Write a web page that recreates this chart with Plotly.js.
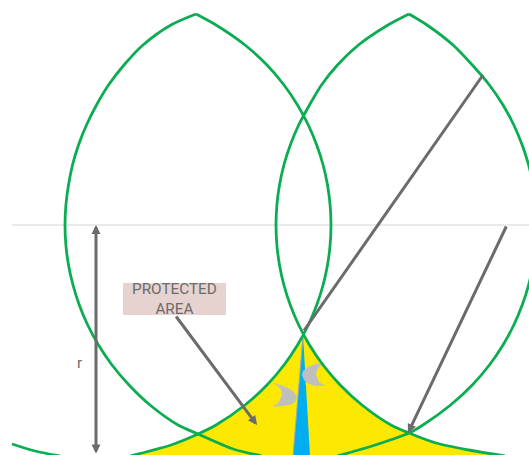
<!DOCTYPE html>
<html><head><meta charset="utf-8">
<script src="https://cdn.plot.ly/plotly-3.0.1.min.js"></script>
<style>html,body{margin:0;padding:0;background:#fff}</style></head>
<body><div id="c" style="width:529px;height:455px"></div>
<script>
// values, in picture units
const leftOuterX=[196,171,143,124,108.5,96.5,86.5,78.5,72.5,68.5,65.9,65,65.9,68.5,73,79.3,87.7,98.5,112,129,150,178,198,233,262];
const leftOuterY=[14,25,45,65,85,105,125,145,165,185,205,225,245,265,285,305,325,345,365,385,405,425,434,449,456];
const leftInnerX=[196,216,245,267,284,297.5,308.3,316.7,323.1,327.5,330.1,331,330.1,327.5,323.1,316.7,308.3,297.5,284,267,245,216,198,171,130];
const leftInnerY=[14,25,45,65,85,105,125,145,165,185,205,225,245,265,285,305,325,345,365,385,405,425,434,445,456];
const rightInnerX=[409,388,358.5,337.5,321.5,309.5,298.7,290.3,283.9,279.5,276.9,276,276.9,279.5,283.9,290.3,298.7,309.5,323.1,340.2,362,391,409,436,469,505];
const rightInnerY=[14,25,45,65,85,105,125,145,165,185,205,225,245,265,285,305,325,345,365,385,405,425,433,443,450,456];
const rightOuterX=[409,427,453,472.3,489.4,503,513.8,522.2,528.6,533,535.6,536.5,535.6,533,528.6,522.2,513.8,503,489.4,472.3,450.6,423,409,369,337];
const rightOuterY=[14,25,45,65,85,105,125,145,165,185,205,225,245,265,285,305,325,345,365,385,405,425,433,447,456];
const farLeftX=[12,35,60];
const farLeftY=[444,451,456];
const yellowX=[303,297.5,284,267,245,216,198,171,130,505,469,436,409,391,362,340.2,323.1,309.5];
const yellowY=[335,345,365,385,405,425,434,445,456,456,450,443,433,425,405,385,365,345];
const blueX=[303,293,310];
const blueY=[335,456,456];
const cres1X=[273,281,288,293,297,295,290,283,273,279,282,281,278];
const cres1Y=[383,385,388,391,397,402,405,406,407,402,395,390,386];
const cres2X=[325,315,308,303,302,304,309,316,325,319,316,317,320];
const cres2Y=[363,364,367,371,375,380,384,386,386,382,375,370,366];
const refX=[12,529], refY=[225,225];
const labels=["PROTECTED<br>AREA","r"];

const green='#0cad52', grey='#6b6b6b';
const line=(x,y)=>({x,y,mode:'lines',hoverinfo:'skip',line:{color:green,width:2.8,shape:'spline',smoothing:0.8}});
const fill=(x,y,c,lc)=>({x,y,mode:'lines',fill:'toself',fillcolor:c,hoverinfo:'skip',line:{color:lc||c,width:lc?1:0}});
const traces=[
 {x:refX,y:refY,mode:'lines',hoverinfo:'skip',line:{color:'#d4d4d4',width:1}},
 fill(yellowX,yellowY,'#fce800'),
 fill(blueX,blueY,'#00aeef','#a9a9a9'),
 fill(cres1X,cres1Y,'#bfbfbf'),
 fill(cres2X,cres2Y,'#bfbfbf'),
 line(leftOuterX,leftOuterY),line(leftInnerX,leftInnerY),
 line(rightInnerX,rightInnerY),line(rightOuterX,rightOuterY),
 line(farLeftX,farLeftY)
];
const arrow=(x0,y0,x1,y1,head,side)=>({x:x1,y:y1,ax:x0,ay:y0,xref:'x',yref:'y',axref:'x',ayref:'y',text:'',showarrow:true,arrowhead:head,startarrowhead:head,arrowside:side||'end',arrowsize:0.6,startarrowsize:0.6,arrowwidth:3,arrowcolor:grey});
const layout={width:529,height:455,margin:{l:0,r:0,t:0,b:0},showlegend:false,paper_bgcolor:'#fff',plot_bgcolor:'#fff',
 xaxis:{range:[0,529],visible:false,fixedrange:true},
 yaxis:{range:[455,0],visible:false,fixedrange:true},
 shapes:[{type:'rect',xref:'x',yref:'y',x0:123,x1:226,y0:283,y1:315,fillcolor:'#e6d3d0',line:{width:0},layer:'below'}],
 annotations:[
  arrow(303,332,483,75,0),
  arrow(507,225,408,433,2),
  arrow(175,315,257,425,2),
  arrow(96,455,96,225,2,'end+start'),
  {x:174.5,y:299,xref:'x',yref:'y',text:labels[0],showarrow:false,font:{family:'Roboto, sans-serif',size:15.3,color:'#6b6b6b'},align:'center'},
  {x:79,y:363,xref:'x',yref:'y',text:labels[1],showarrow:false,font:{family:'Roboto, sans-serif',size:15.3,color:'#6b6b6b'}}
 ]};
Plotly.newPlot('c',traces,layout,{displayModeBar:false,staticPlot:true});
</script></body></html>
